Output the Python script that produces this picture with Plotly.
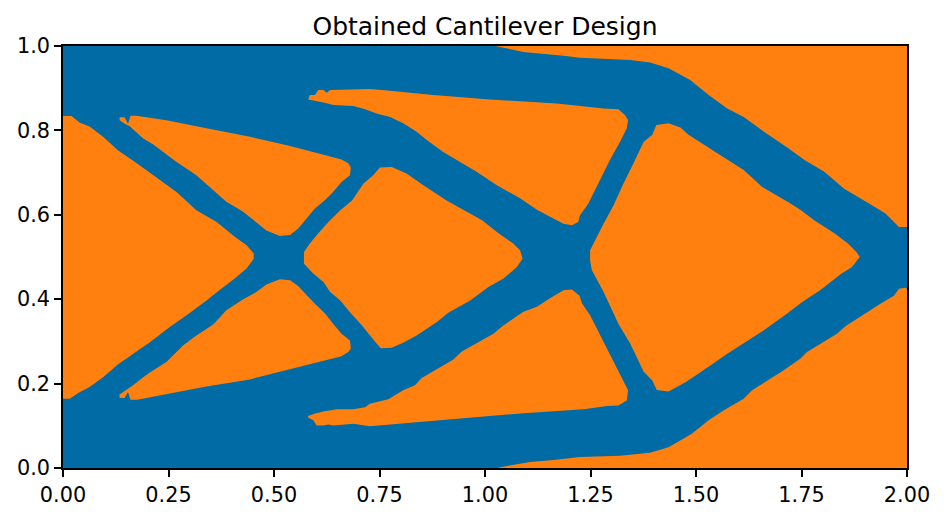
import plotly.graph_objects as go

BLUE = "#006BA4"
ORANGE = "#FF800E"

x_ticks = [0, 0.25, 0.5, 0.75, 1.0, 1.25, 1.5, 1.75, 2.0]
x_labels = ["0.00", "0.25", "0.50", "0.75", "1.00", "1.25", "1.50", "1.75", "2.00"]
y_ticks = [0, 0.2, 0.4, 0.6, 0.8, 1.0]
y_labels = ["0.0", "0.2", "0.4", "0.6", "0.8", "1.0"]

void_left = [(0,.834),(.02,.834),(.04,.818),(.063,.809),(.095,.785),(.13,.753),(.174,.723),(.213,.694),(.269,.654),(.316,.611),(.364,.583),(.407,.548),(.435,.528),(.452,.508),(.452,.496),(.435,.473),(.407,.449),(.375,.425),(.34,.397),(.293,.362),(.253,.334),(.206,.298),(.166,.271),(.13,.245),(.095,.215),(.063,.192),(.036,.178),(.016,.164),(0,.164)]
void_upper_left = [(.134,.831),(.146,.831),(.154,.816),(.16,.835),(.174,.835),(.198,.831),(.245,.824),(.34,.805),(.443,.785),(.538,.763),(.625,.739),(.66,.731),(.676,.722),(.682,.712),(.68,.694),(.66,.678),(.64,.654),(.621,.635),(.597,.615),(.573,.587),(.557,.567),(.538,.552),(.514,.55),(.482,.563),(.458,.583),(.427,.607),(.387,.631),(.356,.658),(.316,.694),(.269,.725),(.237,.749),(.213,.767),(.19,.781),(.158,.81),(.146,.816),(.134,.824)]
void_lower_left = [(.134,.166),(.146,.166),(.154,.18),(.16,.162),(.176,.162),(.237,.174),(.34,.193),(.443,.21),(.538,.234),(.625,.255),(.66,.265),(.676,.275),(.682,.283),(.68,.302),(.66,.318),(.64,.342),(.621,.366),(.597,.389),(.573,.413),(.557,.431),(.538,.445),(.514,.447),(.482,.435),(.458,.417),(.427,.4),(.387,.374),(.356,.34),(.316,.314),(.285,.291),(.245,.251),(.213,.231),(.19,.215),(.166,.196),(.154,.188),(.134,.174)]
void_top_middle = [(.581,.873),(.585,.884),(.597,.884),(.605,.896),(.617,.896),(.625,.889),(.633,.896),(.727,.898),(.775,.894),(.877,.884),(1.012,.873),(1.17,.864),(1.281,.852),(1.316,.85),(1.332,.836),(1.339,.824),(1.336,.805),(1.32,.773),(1.296,.73),(1.272,.682),(1.245,.627),(1.225,.599),(1.221,.583),(1.206,.575),(1.186,.579),(1.162,.591),(1.123,.612),(1.083,.639),(1.028,.67),(.98,.702),(.941,.725),(.901,.749),(.862,.777),(.838,.797),(.806,.817),(.775,.832),(.743,.84),(.716,.85),(.688,.858),(.641,.86),(.617,.866)]
void_centre = [(.571,.512),(.585,.532),(.605,.556),(.629,.583),(.657,.611),(.685,.634),(.712,.674),(.735,.694),(.751,.712),(.779,.713),(.814,.698),(.854,.67),(.909,.634),(.949,.611),(.993,.587),(1.032,.556),(1.067,.532),(1.083,.516),(1.089,.5),(1.089,.496),(1.075,.476),(1.044,.449),(1.008,.429),(.965,.397),(.913,.368),(.886,.346),(.838,.314),(.806,.297),(.779,.285),(.753,.284),(.739,.3),(.708,.338),(.68,.369),(.657,.397),(.633,.417),(.617,.441),(.593,.461),(.571,.484)]
void_bottom_middle = [(.581,.123),(.597,.129),(.617,.134),(.649,.139),(.688,.139),(.716,.144),(.727,.152),(.771,.163),(.806,.184),(.834,.196),(.85,.213),(.873,.227),(.925,.257),(.945,.276),(.973,.291),(1.02,.318),(1.044,.338),(1.091,.37),(1.123,.382),(1.155,.403),(1.186,.421),(1.206,.423),(1.224,.408),(1.23,.39),(1.249,.362),(1.273,.314),(1.304,.255),(1.328,.208),(1.339,.184),(1.336,.16),(1.316,.148),(1.289,.147),(1.234,.139),(1.091,.13),(.973,.12),(.877,.113),(.775,.103),(.727,.099),(.688,.105),(.641,.101),(.629,.103),(.617,.101),(.601,.101),(.593,.113),(.581,.119)]
void_top_right = [(1.024,1),(1.091,.986),(1.186,.977),(1.225,.972),(1.344,.967),(1.391,.961),(1.435,.947),(1.487,.919),(1.53,.884),(1.574,.852),(1.613,.832),(1.661,.797),(1.717,.759),(1.757,.73),(1.804,.702),(1.851,.662),(1.906,.629),(1.949,.603),(1.981,.571),(2,.571),(2,1)]
void_right = [(1.249,.516),(1.257,.532),(1.281,.579),(1.305,.623),(1.328,.674),(1.352,.722),(1.376,.773),(1.396,.789),(1.406,.813),(1.435,.817),(1.463,.807),(1.483,.789),(1.522,.765),(1.558,.741),(1.613,.706),(1.657,.666),(1.717,.631),(1.749,.611),(1.78,.587),(1.828,.556),(1.86,.532),(1.88,.512),(1.888,.5),(1.869,.476),(1.845,.461),(1.794,.421),(1.751,.393),(1.716,.366),(1.66,.326),(1.621,.302),(1.574,.271),(1.534,.243),(1.478,.205),(1.435,.181),(1.407,.185),(1.396,.208),(1.376,.228),(1.344,.295),(1.316,.342),(1.281,.417),(1.253,.469),(1.249,.492)]
void_bottom_right = [(1.036,.002),(1.107,.014),(1.162,.019),(1.225,.026),(1.32,.029),(1.391,.036),(1.435,.049),(1.49,.081),(1.53,.113),(1.565,.136),(1.613,.164),(1.633,.184),(1.707,.231),(1.747,.259),(1.763,.275),(1.834,.318),(1.854,.336),(1.906,.37),(1.937,.389),(1.969,.408),(1.981,.425),(1.996,.427),(2,.425),(2,0),(1.03,0)]

voids = [void_left, void_upper_left, void_lower_left, void_top_middle, void_centre,
         void_bottom_middle, void_top_right, void_right, void_bottom_right]

fig = go.Figure()
for v in voids:
    xs, ys = zip(*v)
    fig.add_trace(go.Scatter(x=xs, y=ys, mode="lines", fill="toself", fillcolor=ORANGE,
                             line=dict(width=0, color=ORANGE), hoverinfo="skip", showlegend=False))

axis = dict(showgrid=False, zeroline=False, showline=True, mirror=True, linecolor="black",
            linewidth=1.5, ticks="outside", ticklen=7, tickwidth=1.5, tickcolor="black",
            tickfont=dict(family="DejaVu Sans", size=20.8, color="black"))
fig.update_layout(
    width=944, height=518, autosize=False,
    margin=dict(l=63, r=37, t=46, b=50),
    paper_bgcolor="white", plot_bgcolor=BLUE,
    title=dict(text="Obtained Cantilever Design", x=485/944, xanchor="center",
               y=1-26/518, yanchor="middle",
               font=dict(family="DejaVu Sans", size=25, color="black")),
    xaxis=dict(range=[0, 2], tickvals=x_ticks, ticktext=x_labels, **axis),
    yaxis=dict(range=[0, 1], tickvals=y_ticks, ticktext=y_labels, **axis),
)
fig.write_html("out.html", config={"displayModeBar": False},
               post_script="document.body.style.margin='0';document.documentElement.style.overflow='hidden';")
